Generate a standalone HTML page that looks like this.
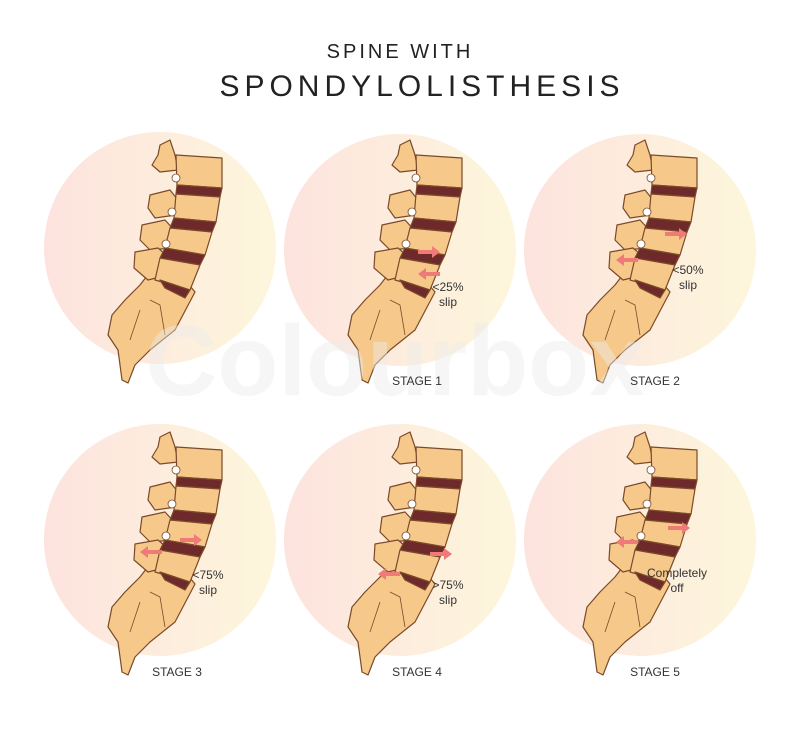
<!DOCTYPE html>
<html><head><meta charset="utf-8"><style>
html,body{margin:0;padding:0;background:#fff;}
body{width:800px;height:724px;overflow:hidden;}
</style></head><body>
<svg width="800" height="724" viewBox="0 0 800 724" xmlns="http://www.w3.org/2000/svg">
<defs>
<linearGradient id="cg" x1="0" y1="0" x2="1" y2="0">
<stop offset="0" stop-color="#fde3de"/><stop offset="1" stop-color="#fdf6dc"/>
</linearGradient>
<g id="spine" stroke="#7a4a2a" stroke-width="1.2" stroke-linejoin="round">
<path d="M150 272 L185 280 L195 292 L175 330 L150 350 L135 365 L128 383 L122 380 L118 350 L108 335 L112 315 L125 300 L140 285 Z" fill="#f6c98a"/>
<path d="M150 300 L160 305 L165 335 M140 310 L130 340" fill="none" stroke-width="0.8"/>
<path d="M160 145 L170 140 L175 155 L178 170 L160 172 L152 165 L158 155 Z" fill="#f6c98a"/>
<path d="M150 195 L170 190 L178 200 L176 215 L155 218 L148 208 Z" fill="#f6c98a"/>
<path d="M142 225 L165 220 L176 232 L172 248 L150 250 L140 240 Z" fill="#f6c98a"/>
<path d="M135 252 L158 248 L172 260 L168 275 L148 280 L134 268 Z" fill="#f6c98a"/>
<path d="M176 155 L222 158 L222 188 L177 185 Z" fill="#f6c98a"/>
<path d="M177 185 L222 188 L220 197 L176 194 Z" fill="#6e2a2a"/>
<path d="M176 194 L220 197 L216 222 L174 218 Z" fill="#f6c98a"/>
<path d="M174 218 L216 222 L212 232 L170 228 Z" fill="#6e2a2a"/>
<path d="M170 228 L212 232 L205 255 L165 248 Z" fill="#f6c98a"/>
<path d="M165 248 L205 255 L200 265 L160 258 Z" fill="#6e2a2a"/>
<path d="M160 258 L200 265 L190 290 L155 280 Z" fill="#f6c98a"/>
<path d="M160 280 L190 290 L185 298 L165 288 Z" fill="#6e2a2a"/>
<circle cx="176" cy="178" r="4" fill="#fff" stroke-width="0.8"/>
<circle cx="172" cy="212" r="4" fill="#fff" stroke-width="0.8"/>
<circle cx="166" cy="244" r="4" fill="#fff" stroke-width="0.8"/>
</g>
<g id="arrows" fill="#f07a78" stroke="none">
<path d="M0 0 L14 0 L14 -4 L22 2 L14 8 L14 4 L0 4 Z"/>
</g>
</defs>

<g font-family="Liberation Sans, sans-serif" fill="#222" text-anchor="middle">
<text x="400" y="58" font-size="20" letter-spacing="3">SPINE WITH</text>
<text x="422" y="96" font-size="30" letter-spacing="5">SPONDYLOLISTHESIS</text>
</g>

<circle cx="160" cy="248" r="116" fill="url(#cg)"/>
<circle cx="400" cy="250" r="116" fill="url(#cg)"/>
<circle cx="640" cy="250" r="116" fill="url(#cg)"/>
<circle cx="160" cy="540" r="116" fill="url(#cg)"/>
<circle cx="400" cy="540" r="116" fill="url(#cg)"/>
<circle cx="640" cy="540" r="116" fill="url(#cg)"/>

<use href="#spine"/>
<use href="#spine" transform="translate(240,0)"/>
<use href="#spine" transform="translate(475,0)"/>
<use href="#spine" transform="translate(0,292)"/>
<use href="#spine" transform="translate(240,292)"/>
<use href="#spine" transform="translate(475,292)"/>

<use href="#arrows" transform="translate(418,250)"/>
<use href="#arrows" transform="translate(418,272) scale(-1,1) translate(-22,0)"/>
<use href="#arrows" transform="translate(665,232)"/>
<use href="#arrows" transform="translate(638,258) scale(-1,1)"/>
<use href="#arrows" transform="translate(180,538)"/>
<use href="#arrows" transform="translate(162,550) scale(-1,1)"/>
<use href="#arrows" transform="translate(430,552)"/>
<use href="#arrows" transform="translate(400,572) scale(-1,1)"/>
<use href="#arrows" transform="translate(668,526)"/>
<use href="#arrows" transform="translate(638,540) scale(-1,1)"/>

<text x="395" y="395" font-family="Liberation Sans, sans-serif" font-size="100" font-weight="bold" fill="#ebebeb" fill-opacity="0.45" text-anchor="middle">Colourbox</text>

<g font-family="Liberation Sans, sans-serif" fill="#333" font-size="12" text-anchor="middle">
<text x="448" y="291">&lt;25%</text><text x="448" y="306">slip</text>
<text x="688" y="274">&lt;50%</text><text x="688" y="289">slip</text>
<text x="208" y="579">&lt;75%</text><text x="208" y="594">slip</text>
<text x="448" y="589">&gt;75%</text><text x="448" y="604">slip</text>
<text x="677" y="577">Completely</text><text x="677" y="592">off</text>
<text x="417" y="385">STAGE 1</text>
<text x="655" y="385">STAGE 2</text>
<text x="177" y="676">STAGE 3</text>
<text x="417" y="676">STAGE 4</text>
<text x="655" y="676">STAGE 5</text>
</g>
</svg>
</body></html>
